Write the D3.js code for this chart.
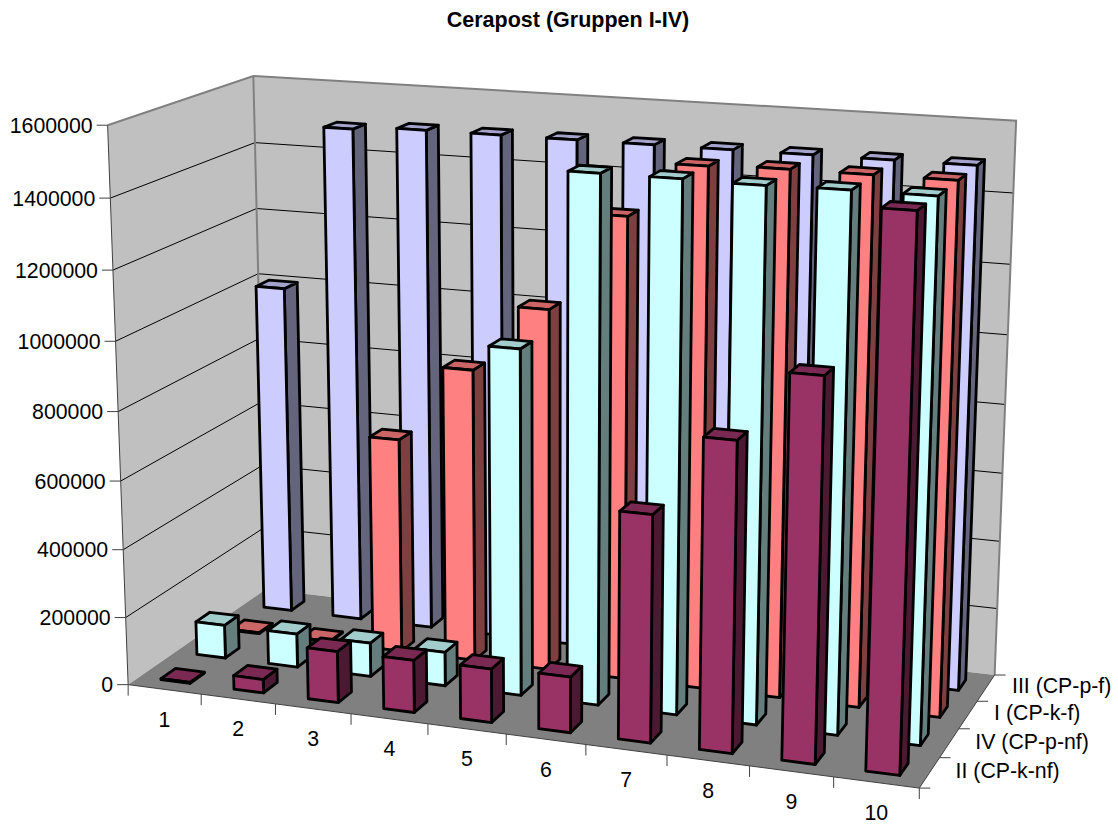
<!DOCTYPE html>
<html>
<head>
<meta charset="utf-8">
<script src="https://cdn.jsdelivr.net/npm/d3@7"></script>
<style>
  html, body { margin: 0; background: #fff; }
  text { font-family: "Liberation Sans", Arial, sans-serif; fill: #000; }
</style>
</head>
<body>
<svg id="chart" width="1118" height="825"></svg>
<script>
const categories = ["1", "2", "3", "4", "5", "6", "7", "8", "9", "10"];
const seriesNames = ["II (CP-k-nf)", "IV (CP-p-nf)", "I (CP-k-f)", "III (CP-p-f)"];
const valueTicks = [0, 200000, 400000, 600000, 800000, 1000000, 1200000, 1400000, 1600000];

const valuesII = [3000, 40000, 150000, 152000, 155000, 160000, 642000, 867000, 1060000, 1505000];
const valuesIV = [100000, 100000, 100000, 100000, 1000000, 1500000, 1500000, 1497000, 1500000, 1500000];
const valuesI = [3000, 3000, 640000, 866000, 1060000, 1340000, 1494000, 1500000, 1500000, 1500000];
const valuesIII = [1000000, 1490000, 1500000, 1500000, 1500000, 1500000, 1500000, 1500000, 1500000, 1500000];
const seriesValues = [valuesII, valuesIV, valuesI, valuesIII];

const fills = ["#993366", "#CCFFFF", "#FF8080", "#CCCCFF"];

const svg = d3.select("#chart");

// scales for the 3d box: u along the categories, v into the depth, w up
const u = d3.scaleBand().domain(categories).range([0, 1]).paddingInner(0.6).paddingOuter(0.3);
const v = d3.scaleBand().domain(seriesNames).range([0, 1]).paddingInner(0.6).paddingOuter(0.3);
const w = d3.scaleLinear().domain([0, 1600000]).range([0, 1]);

// picture positions of the box corners, the camera is fitted to these
const anchors = [
  [0, 0, 0, 129, 684],
  [1, 0, 0, 919, 789],
  [0, 1, 0, 265, 590],
  [1, 1, 0, 995, 674],
  [0, 0, 1, 107, 125],
  [0, 1, 1, 254, 76],
  [1, 1, 1, 1016, 121],
];

function solve(A, b) {
  const n = b.length;
  const M = A.map((row, i) => [...row, b[i]]);
  for (let c = 0; c < n; c++) {
    let p = c;
    for (let r = c + 1; r < n; r++) if (Math.abs(M[r][c]) > Math.abs(M[p][c])) p = r;
    [M[c], M[p]] = [M[p], M[c]];
    for (let r = 0; r < n; r++) {
      if (r === c) continue;
      const f = M[r][c] / M[c][c];
      for (let k = c; k <= n; k++) M[r][k] -= f * M[c][k];
    }
  }
  return M.map((row, i) => row[n] / row[i]);
}

function fitCamera(points) {
  const rows = [];
  const rhs = [];
  points.forEach(([a, b, c, x, y]) => {
    x /= 1000;
    y /= 1000;
    rows.push([a, b, c, 1, 0, 0, 0, 0, -x * a, -x * b, -x * c]);
    rhs.push(x);
    rows.push([0, 0, 0, 0, a, b, c, 1, -y * a, -y * b, -y * c]);
    rhs.push(y);
  });
  const AtA = d3.range(11).map((i) =>
    d3.range(11).map((j) => d3.sum(rows, (r) => r[i] * r[j]))
  );
  const Atb = d3.range(11).map((i) => d3.sum(rows, (r, k) => r[i] * rhs[k]));
  return solve(AtA, Atb);
}

const cam = fitCamera(anchors);

function project(a, b, c) {
  const d = cam[8] * a + cam[9] * b + cam[10] * c + 1;
  return [
    (1000 * (cam[0] * a + cam[1] * b + cam[2] * c + cam[3])) / d,
    (1000 * (cam[4] * a + cam[5] * b + cam[6] * c + cam[7])) / d,
  ];
}

const line = d3.line();
const face = (pts) => line(pts.map((p) => project(...p))) + "Z";

// walls and floor
const walls = svg.append("g");
walls.append("path")
  .attr("d", face([[0, 0, 0], [0, 1, 0], [0, 1, 1], [0, 0, 1]]))
  .attr("fill", "#c0c0c0");
walls.append("path")
  .attr("d", face([[0, 1, 0], [1, 1, 0], [1, 1, 1], [0, 1, 1]]))
  .attr("fill", "#c0c0c0");
walls.append("path")
  .attr("d", face([[0, 0, 0], [1, 0, 0], [1, 1, 0], [0, 1, 0]]))
  .attr("fill", "#808080");

// gridlines
valueTicks.slice(1, -1).forEach((t) => {
  walls.append("path")
    .attr("d", line([project(0, 0, w(t)), project(0, 1, w(t)), project(1, 1, w(t))]))
    .attr("fill", "none")
    .attr("stroke", "#000")
    .attr("stroke-width", 1);
});

// wall edges
walls.append("path")
  .attr("d", line([project(0, 0, 1), project(0, 1, 1), project(1, 1, 1), project(1, 1, 0)]))
  .attr("fill", "none")
  .attr("stroke", "#808080")
  .attr("stroke-width", 2);
walls.append("path")
  .attr("d", line([project(0, 1, 0), project(0, 1, 1)]))
  .attr("fill", "none")
  .attr("stroke", "#808080")
  .attr("stroke-width", 2);
walls.append("path")
  .attr("d", line([project(0, 0, 0), project(0, 0, 1)]))
  .attr("fill", "none")
  .attr("stroke", "#404040")
  .attr("stroke-width", 1);
walls.append("path")
  .attr("d", line([project(0, 0, 0), project(1, 0, 0), project(1, 1, 0)]))
  .attr("fill", "none")
  .attr("stroke", "#404040")
  .attr("stroke-width", 1);

// axes
const axes = svg.append("g");
valueTicks.forEach((t) => {
  const [x, y] = project(0, 0, w(t));
  axes.append("line")
    .attr("x1", x - 11).attr("x2", x)
    .attr("y1", y).attr("y2", y)
    .attr("stroke", "#404040");
  axes.append("text")
    .attr("x", x - 15)
    .attr("y", y)
    .attr("dy", "0.35em")
    .attr("text-anchor", "end")
    .attr("font-size", "21.3px")
    .text(t);
});

d3.range(categories.length + 1).forEach((i) => {
  const [x, y] = project(i / categories.length, 0, 0);
  axes.append("line")
    .attr("x1", x).attr("x2", x)
    .attr("y1", y).attr("y2", y + 11)
    .attr("stroke", "#404040");
});
categories.forEach((c) => {
  const [x, y] = project(u(c) + u.bandwidth() / 2, 0, 0);
  axes.append("text")
    .attr("x", x)
    .attr("y", y + 30)
    .attr("dy", "0.35em")
    .attr("text-anchor", "middle")
    .attr("font-size", "21.3px")
    .text(c);
});

d3.range(seriesNames.length + 1).forEach((i) => {
  const [x, y] = project(1, i / seriesNames.length, 0);
  axes.append("line")
    .attr("x1", x).attr("x2", x + 11)
    .attr("y1", y).attr("y2", y)
    .attr("stroke", "#404040");
});
seriesNames.forEach((s) => {
  const [x, y] = project(1, v(s) + v.bandwidth() / 2, 0);
  axes.append("text")
    .attr("x", x + 26)
    .attr("y", y - 2)
    .attr("dy", "0.35em")
    .attr("font-size", "21.3px")
    .text(s);
});

// bars, back row first and left to right so the nearer ones cover
const bars = svg.append("g");
d3.range(seriesNames.length - 1, -1, -1).forEach((si) => {
  const name = seriesNames[si];
  const base = d3.color(fills[si]);
  const v0 = v(name);
  const v1 = v0 + v.bandwidth();
  categories.forEach((c, ci) => {
    const u0 = u(c);
    const u1 = u0 + u.bandwidth();
    const h = w(seriesValues[si][ci]);
    const g = bars.append("g")
      .attr("stroke", "#000")
      .attr("stroke-width", 2.8)
      .attr("stroke-linejoin", "round");
    g.append("path")
      .attr("d", face([[u1, v0, 0], [u1, v1, 0], [u1, v1, h], [u1, v0, h]]))
      .attr("fill", base.darker(2));
    g.append("path")
      .attr("d", face([[u0, v0, h], [u1, v0, h], [u1, v1, h], [u0, v1, h]]))
      .attr("fill", d3.rgb(base.r * 0.8, base.g * 0.8, base.b * 0.8));
    g.append("path")
      .attr("d", face([[u0, v0, 0], [u1, v0, 0], [u1, v0, h], [u0, v0, h]]))
      .attr("fill", base);
  });
});

svg.append("text")
  .attr("x", 568)
  .attr("y", 27)
  .attr("text-anchor", "middle")
  .attr("font-size", "21.5px")
  .attr("font-weight", "bold")
  .text("Cerapost (Gruppen I-IV)");
</script>
</body>
</html>
